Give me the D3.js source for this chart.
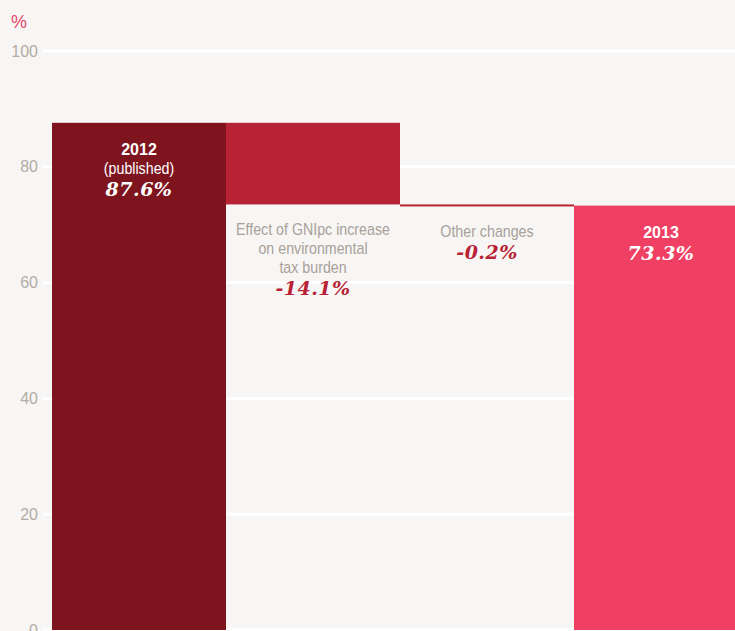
<!DOCTYPE html>
<html>
<head>
<meta charset="utf-8">
<script src="https://cdn.jsdelivr.net/npm/d3@7"></script>
<style>
  html, body { margin: 0; padding: 0; background: #f7f6f4; overflow: hidden; }
  svg { display: block; }
</style>
</head>
<body>
<svg width="735" height="631"></svg>
<script>
// waterfall steps: start value, change, change, end value
var categories = ["2012", "gni", "other", "2013"];
var stepValues = [87.6, -14.1, -0.2, 73.3];
var stepKinds = ["total", "delta", "delta", "total"];
var valueLabels = ["87.6%", "-14.1%", "-0.2%", "73.3%"];
var titleLines = [
    ["2012", "(published)"],
    ["Effect of GNIpc increase", "on environmental", "tax burden"],
    ["Other changes"],
    ["2013"]
];
var yTicks = [0, 20, 40, 60, 80, 100];

var svg = d3.select("svg");
var colors = ["#7e141e", "#b82235", "#b82235", "#ef3f62"];

// running totals for the floating bars
var running = 0;
var steps = stepValues.map(function (v, i) {
    var s = {};
    if (stepKinds[i] == "total") {
        s.lo = 0; s.hi = v; running = v;
    } else {
        var next = running + v;
        s.lo = Math.min(running, next); s.hi = Math.max(running, next);
        running = next;
    }
    s.key = categories[i];
    s.i = i;
    return s;
});

var x = d3.scaleBand().domain(categories).range([52, 748]).padding(0);
var y = d3.scaleLinear().domain([0, 100]).range([630, 51]);

// gridlines
svg.append("g").selectAll("line").data(yTicks).enter().append("line")
    .attr("x1", 43).attr("x2", 735)
    .attr("y1", function (d) { return y(d); })
    .attr("y2", function (d) { return y(d); })
    .style("stroke", "#ffffff").style("stroke-width", 3);

// y axis labels
svg.append("g").selectAll("text").data(yTicks).enter().append("text")
    .attr("x", 38)
    .attr("y", function (d) { return y(d) + 5.5; })
    .attr("text-anchor", "end")
    .style("font-family", "'Liberation Sans', Arial, sans-serif")
    .style("font-size", "16px")
    .style("fill", "#b3aba4")
    .text(function (d) { return d; });

svg.append("text").attr("x", 11).attr("y", 28)
    .style("font-family", "'Liberation Sans', Arial, sans-serif")
    .style("font-size", "18px").style("fill", "#e8456a")
    .text("%");

// bars
svg.append("g").selectAll("rect").data(steps).enter().append("rect")
    .attr("x", function (d) { return x(d.key); })
    .attr("width", x.bandwidth())
    .attr("y", function (d) { return y(d.hi); })
    .attr("height", function (d) { return Math.max(2, y(d.lo) - y(d.hi)); })
    .style("fill", function (d) { return colors[d.i]; });

// labels
var sans = "'Liberation Sans', Arial, sans-serif";
var serif = "'DejaVu Serif', Georgia, serif";

steps.forEach(function (d) {
    var cx = x(d.key) + x.bandwidth() / 2;
    if (d.key == "2013") cx = x(d.key) + 87;
    var inside = stepKinds[d.i] == "total";
    var top = inside ? y(d.hi) + 32 : y(d.lo) + 31;
    var lines = titleLines[d.i];
    var g = svg.append("g");
    lines.forEach(function (t, j) {
        var isYear = inside && j == 0;
        // condensed look: squeeze the regular face horizontally
        g.append("text")
            .attr("transform", "translate(" + cx + "," + (top + j * 19) + ")" + (isYear ? "" : " scale(0.89,1)"))
            .attr("text-anchor", "middle")
            .style("font-family", sans)
            .style("font-weight", isYear ? "bold" : "normal")
            .style("font-size", "16px")
            .style("fill", inside ? "#ffffff" : "#a9a099")
            .text(t);
    });
    g.append("text")
        .attr("x", cx)
        .attr("y", top + lines.length * 19 + 3)
        .attr("text-anchor", "middle")
        .style("font-family", serif)
        .style("font-weight", "bold")
        .style("font-style", "italic")
        .style("font-size", "19px")
        .style("letter-spacing", "0.5px")
        .style("fill", inside ? "#ffffff" : "#b82235")
        .text(valueLabels[d.i]);
});
</script>
</body>
</html>
